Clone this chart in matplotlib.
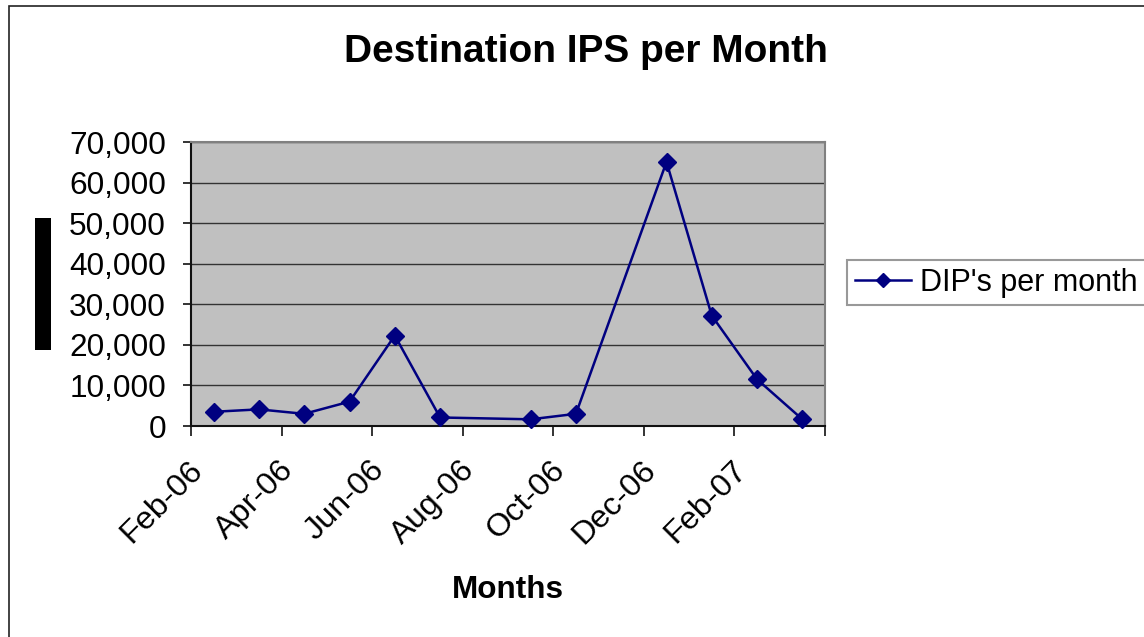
import matplotlib
matplotlib.use("Agg")
import matplotlib.pyplot as plt
from matplotlib.patches import Rectangle
from matplotlib.ticker import FuncFormatter, FixedLocator
from matplotlib.lines import Line2D
import matplotlib.transforms as mtransforms
import pandas as pd

# ---- data ----
months = ["Feb-06", "Mar-06", "Apr-06", "May-06", "Jun-06", "Jul-06",
          "Sep-06", "Oct-06", "Dec-06", "Jan-07", "Feb-07", "Mar-07"]
dips = [3500, 4100, 3000, 6000, 22300, 2100, 1650, 3000, 65100, 27200, 11500, 1650]
tick_labels = ["Feb-06", "Apr-06", "Jun-06", "Aug-06", "Oct-06", "Dec-06", "Feb-07", ""]
series_name = "DIP's per month"

plt.rcParams['font.family'] = ['Liberation Sans', 'DejaVu Sans']

W, H = 1144, 637
fig = plt.figure(figsize=(W / 100, H / 100), dpi=100)

# outer chart border (extends past right/bottom edge)
fig.patches.append(Rectangle((9 / W, 0 - 0.02), 1.05, 1 - 6 / H + 0.02,
                             transform=fig.transFigure, fill=False,
                             edgecolor="#222222", linewidth=1.2))

ax = fig.add_axes([191 / W, 1 - 426 / H, (825 - 191) / W, (426 - 142) / H])
ax.set_facecolor("#C0C0C0")

dt = pd.to_datetime(months, format="%b-%y")
x = [(d.year - 2006) * 12 + d.month - 2 + 0.5 for d in dt]
ax.plot(x, dips, color="#000080", linewidth=1.8, marker="D", markersize=9,
        markerfacecolor="#000080", markeredgecolor="#000080", zorder=3,
        clip_on=False)

ax.set_xlim(0, 14)
ax.set_ylim(0, 70000)
ax.yaxis.set_major_locator(FixedLocator(range(0, 70001, 10000)))
ax.yaxis.set_major_formatter(FuncFormatter(lambda v, p: f"{int(v):,}"))
ax.set_xticks(range(0, 15, 2))
ax.set_xticklabels(tick_labels, rotation=45, ha="right", rotation_mode="anchor")

ax.grid(axis="y", color="#333333", linewidth=1.0)
ax.set_axisbelow(True)

for s in ["top", "right"]:
    ax.spines[s].set_color("#808080")
    ax.spines[s].set_linewidth(1.5)
for s in ["left", "bottom"]:
    ax.spines[s].set_color("#111111")
    ax.spines[s].set_linewidth(1.5)

ax.tick_params(axis="y", direction="out", length=6, width=1.2, labelsize=22.7,
               pad=12, colors="#111111", labelcolor="black")
ax.tick_params(axis="x", direction="out", length=7, width=1.2, labelsize=23.3,
               pad=14, colors="#111111", labelcolor="black")
shift = mtransforms.ScaledTranslation(-3 / 100, 0, fig.dpi_scale_trans)
for lbl in ax.get_xticklabels():
    lbl.set_transform(lbl.get_transform() + shift)

fig.text(586 / W, 1 - 52 / H, "Destination IPS per Month", fontsize=28,
         fontweight="bold", ha="center", va="center")
fig.text(508 / W, 1 - 590 / H, "Months", fontsize=22.7, fontweight="bold",
         ha="center", va="center")

# black bar on the left (rendered y-axis title in the original)
fig.patches.append(Rectangle((35 / W, 1 - 350 / H), 16 / W, 132 / H,
                             transform=fig.transFigure, facecolor="black",
                             edgecolor="none"))

handle = Line2D([], [], color="#000080", linewidth=1.8, marker="D",
                markersize=7, markerfacecolor="#000080")
leg = fig.legend([handle], [series_name], loc="upper left",
                 bbox_to_anchor=(847 / W, 1 - 260 / H), fontsize=22,
                 frameon=True, fancybox=False, borderpad=0.25,
                 handlelength=1.85, handletextpad=0.3, borderaxespad=0)
leg.get_frame().set_edgecolor("#808080")
leg.get_frame().set_linewidth(1.5)

fig.savefig("out.png", dpi=100, facecolor="white")
